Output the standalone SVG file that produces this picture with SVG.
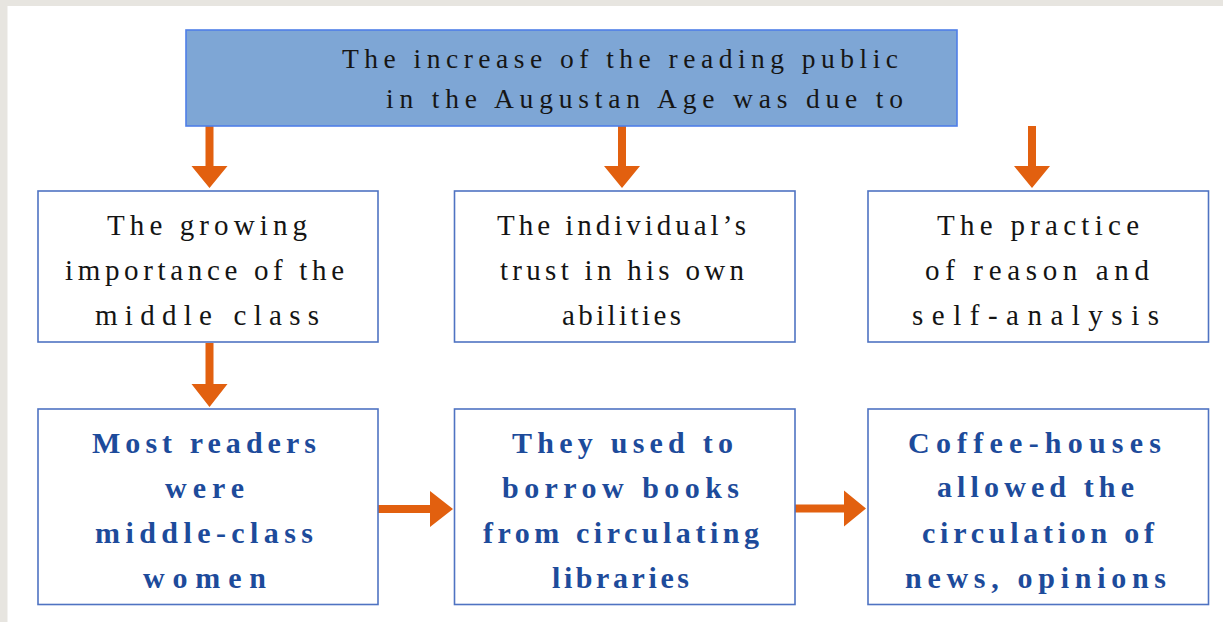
<svg xmlns="http://www.w3.org/2000/svg" width="1223" height="622" viewBox="0 0 1223 622">
  <style>
    .box { fill: #ffffff; stroke: #4f73c2; stroke-width: 1.6; }
    .head { fill: #7ea6d5; stroke: #4f7fe8; stroke-width: 1.6; }
    .t-head { font-family: "Liberation Serif", "Times New Roman", serif; font-size: 27.5px; fill: #161616; }
    .t-cause { font-family: "Liberation Serif", "Times New Roman", serif; font-size: 29px; fill: #141414; }
    .t-effect { font-family: "Liberation Serif", "Times New Roman", serif; font-size: 30px; font-weight: bold; fill: #1d4b9b; }
    .arrow { fill: #e2600f; }
  </style>

  <!-- page backdrop -->
  <rect x="0" y="0" width="1223" height="622" fill="#e7e5e0"/>
  <rect x="7.5" y="6" width="1215.5" height="616" fill="#ffffff"/>

  <!-- connectors: block arrows -->
  <g id="connectors" class="arrow">
    <!-- header to causes -->
    <polygon points="205.5,126 213.5,126 213.5,166 227.5,166 209.5,188 191.5,166 205.5,166"/>
    <polygon points="618,126 626,126 626,166 640,166 622,188 604,166 618,166"/>
    <polygon points="1028,126 1036,126 1036,166 1050,166 1032,188 1014,166 1028,166"/>
    <!-- growing importance to readers -->
    <polygon points="205.5,343 213.5,343 213.5,384 227.5,384 209.5,407 191.5,384 205.5,384"/>
    <!-- readers to libraries -->
    <polygon points="378,505 430,505 430,491 453,509 430,527 430,513 378,513"/>
    <!-- libraries to coffee-houses -->
    <polygon points="795,504.5 844,504.5 844,490.5 866,508.5 844,526.5 844,512.5 795,512.5"/>
  </g>

  <!-- header -->
  <g id="header">
    <rect class="head" x="186" y="30" width="771" height="96"/>
    <text class="t-head" x="342" y="68" textLength="556" lengthAdjust="spacing">The increase of the reading public</text>
    <text class="t-head" x="386" y="108" textLength="517" lengthAdjust="spacing">in the Augustan Age was due to</text>
  </g>

  <!-- causes -->
  <g id="cause-middle-class">
    <rect class="box" x="38" y="191" width="340" height="151"/>
    <text class="t-cause" x="107" y="235" textLength="200" lengthAdjust="spacing">The growing</text>
    <text class="t-cause" x="65" y="280" textLength="279" lengthAdjust="spacing">importance of the</text>
    <text class="t-cause" x="95" y="325" textLength="224" lengthAdjust="spacing">middle class</text>
  </g>

  <g id="cause-self-trust">
    <rect class="box" x="454.5" y="191" width="340.5" height="151"/>
    <text class="t-cause" x="497" y="235" textLength="249" lengthAdjust="spacing">The individual’s</text>
    <text class="t-cause" x="500" y="280" textLength="244" lengthAdjust="spacing">trust in his own</text>
    <text class="t-cause" x="562" y="325" textLength="119" lengthAdjust="spacing">abilities</text>
  </g>

  <g id="cause-reason">
    <rect class="box" x="868" y="191" width="340.5" height="151"/>
    <text class="t-cause" x="937" y="235" textLength="202" lengthAdjust="spacing">The practice</text>
    <text class="t-cause" x="925" y="280" textLength="224" lengthAdjust="spacing">of reason and</text>
    <text class="t-cause" x="912" y="325" textLength="247" lengthAdjust="spacing">self-analysis</text>
  </g>

  <!-- effects -->
  <g id="effect-readers">
    <rect class="box" x="38" y="409" width="340" height="195.5"/>
    <text class="t-effect" x="92" y="453" textLength="224" lengthAdjust="spacing">Most readers</text>
    <text class="t-effect" x="165" y="498" textLength="79" lengthAdjust="spacing">were</text>
    <text class="t-effect" x="95" y="543" textLength="218" lengthAdjust="spacing">middle-class</text>
    <text class="t-effect" x="143" y="588" textLength="123" lengthAdjust="spacing">women</text>
  </g>

  <g id="effect-libraries">
    <rect class="box" x="454.5" y="409" width="340.5" height="195.5"/>
    <text class="t-effect" x="512" y="453" textLength="221" lengthAdjust="spacing">They used to</text>
    <text class="t-effect" x="502" y="498" textLength="237" lengthAdjust="spacing">borrow books</text>
    <text class="t-effect" x="483" y="543" textLength="276" lengthAdjust="spacing">from circulating</text>
    <text class="t-effect" x="552" y="588" textLength="137" lengthAdjust="spacing">libraries</text>
  </g>

  <g id="effect-coffee-houses">
    <rect class="box" x="868" y="409" width="340.5" height="195.5"/>
    <text class="t-effect" x="908" y="453" textLength="253" lengthAdjust="spacing">Coffee-houses</text>
    <text class="t-effect" x="937" y="497" textLength="197" lengthAdjust="spacing">allowed the</text>
    <text class="t-effect" x="922" y="543" textLength="232" lengthAdjust="spacing">circulation of</text>
    <text class="t-effect" x="905" y="588" textLength="261" lengthAdjust="spacing">news, opinions</text>
  </g>
</svg>
